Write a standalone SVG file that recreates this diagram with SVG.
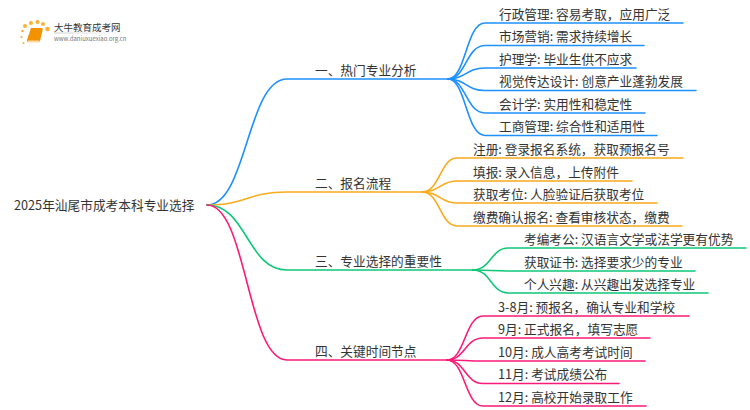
<svg xmlns="http://www.w3.org/2000/svg" width="750" height="410" viewBox="0 0 750 410">
<defs><linearGradient id="fade"><stop offset="0" stop-color="#ccc"/><stop offset="1" stop-color="#fff"/></linearGradient></defs>
<style>
text{font-family:"Noto Sans CJK SC","Liberation Sans",sans-serif;font-size:12.700px;fill:#333}
.c{fill:none;stroke-width:1.6;stroke-linecap:round}
.b{stroke:#1e90ff}.o{stroke:#f9ab1c}.g{stroke:#0ec878}.p{stroke:#fb1a78}
</style>
<rect width="750" height="410" fill="#fff"/>
<g id="connectors">
<g class="c b">
<path d="M207,205C247,205 247,79 287,79L448,79"/>
<path d="M448,79C466,79 466,23 485,23L683,23"/>
<path d="M448,79C466,79 466,45.500 485,45.500L644,45.500"/>
<path d="M448,79C466,79 466,68 485,68L636,68"/>
<path d="M448,79C466,79 466,90.500 485,90.500L696,90.500"/>
<path d="M448,79C466,79 466,113 485,113L645,113"/>
<path d="M448,79C466,79 466,135.500 485,135.500L657,135.500"/>
</g>
<g class="c o">
<path d="M207,205C247,205 247,192 287,192L422,192"/>
<path d="M422,192C440,192 440,158 457,158L683,158"/>
<path d="M422,192C440,192 440,181 457,181L632,181"/>
<path d="M422,192C440,192 440,203 457,203L657,203"/>
<path d="M422,192C440,192 440,226 457,226L682,226"/>
</g>
<g class="c g">
<path d="M207,205C247,205 247,270 287,270L473,270"/>
<path d="M473,270C491,270 491,248 508,248L746,248"/>
<path d="M473,270C491,270 491,271 508,271L695,271"/>
<path d="M473,270C491,270 491,293 508,293L708,293"/>
</g>
<g class="c p">
<path d="M207,205C247,205 247,360 287,360L447,360"/>
<path d="M447,360C465,360 465,316 483,316L689,316"/>
<path d="M447,360C465,360 465,338 483,338L650,338"/>
<path d="M447,360C465,360 465,361 483,361L645,361"/>
<path d="M447,360C465,360 465,383.500 483,383.500L619,383.500"/>
<path d="M447,360C465,360 465,406 483,406L646,406"/>
</g>
</g>
<g id="logo">
<g fill="#f9b233">
<circle cx="25" cy="26" r="2"/><circle cx="31" cy="23" r="2"/><circle cx="37.500" cy="22" r="2"/><circle cx="43" cy="24" r="2"/><circle cx="47.500" cy="29" r="2.200"/><circle cx="22.500" cy="31" r="1.300"/><circle cx="21.500" cy="37" r="1.100"/><circle cx="23.500" cy="43" r="1"/>
</g>
<path d="M31,28L42,28Q43,28 42.700,29.500L40,41Q39.700,42 38.500,42L28,42Q26.500,42 27,40Z" fill="#f39200"/>
<path d="M27.500,40.500L39.500,40.500L39,42.500L28,42.500Z" fill="#fbd9a0"/>
<rect x="54" y="32.500" width="79" height="1" fill="url(#fade)"/>
<text x="54" y="31" style="font-size:9.500px">大牛教育成考网</text>
<text x="54" y="41" style="font-size:6px;fill:#777">www.daniuxuexiao.org.cn</text>
</g>
<g id="root"><text x="14" y="210">2025年汕尾市成考本科专业选择</text></g>
<g id="n1"><text x="315" y="75">一、热门专业分析</text></g>
<g id="n1-1"><text x="499" y="19">行政管理: 容易考取，应用广泛</text></g>
<g id="n1-2"><text x="499" y="41">市场营销: 需求持续增长</text></g>
<g id="n1-3"><text x="499" y="64">护理学: 毕业生供不应求</text></g>
<g id="n1-4"><text x="499" y="86">视觉传达设计: 创意产业蓬勃发展</text></g>
<g id="n1-5"><text x="499" y="109">会计学: 实用性和稳定性</text></g>
<g id="n1-6"><text x="499" y="131">工商管理: 综合性和适用性</text></g>
<g id="n2"><text x="315" y="188">二、报名流程</text></g>
<g id="n2-1"><text x="473" y="154">注册: 登录报名系统，获取预报名号</text></g>
<g id="n2-2"><text x="473" y="177">填报: 录入信息，上传附件</text></g>
<g id="n2-3"><text x="473" y="199">获取考位: 人脸验证后获取考位</text></g>
<g id="n2-4"><text x="473" y="222">缴费确认报名: 查看审核状态，缴费</text></g>
<g id="n3"><text x="315" y="266">三、专业选择的重要性</text></g>
<g id="n3-1"><text x="524" y="244">考编考公: 汉语言文学或法学更有优势</text></g>
<g id="n3-2"><text x="524" y="267">获取证书: 选择要求少的专业</text></g>
<g id="n3-3"><text x="524" y="289">个人兴趣: 从兴趣出发选择专业</text></g>
<g id="n4"><text x="315" y="356">四、关键时间节点</text></g>
<g id="n4-1"><text x="498" y="312">3-8月: 预报名，确认专业和学校</text></g>
<g id="n4-2"><text x="498" y="334">9月: 正式报名，填写志愿</text></g>
<g id="n4-3"><text x="498" y="357">10月: 成人高考考试时间</text></g>
<g id="n4-4"><text x="498" y="379">11月: 考试成绩公布</text></g>
<g id="n4-5"><text x="498" y="402">12月: 高校开始录取工作</text></g>
</svg>
